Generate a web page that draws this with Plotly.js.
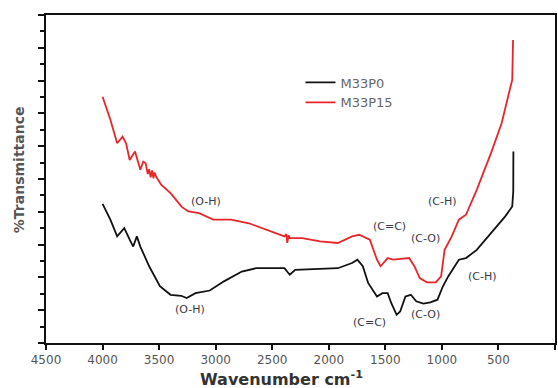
<!DOCTYPE html>
<html>
<head>
<meta charset="utf-8">
<script src="https://cdn.plot.ly/plotly-3.0.1.min.js"></script>
<style>html,body{margin:0;padding:0;background:#fff;}#chart{width:558px;height:388px;}</style>
</head>
<body>
<div id="chart"></div>
<script>
// M33P15 (red) spectrum
const wnP15 = [4000, 3930, 3871, 3823, 3792, 3760, 3713, 3666, 3640, 3619, 3600, 3588, 3575, 3562, 3550, 3540, 3525, 3480, 3399, 3300, 3241, 3147, 3021, 2864, 2706, 2549, 2392, 2375, 2367, 2355, 2345, 2234, 2077, 1920, 1794, 1731, 1637, 1574, 1542, 1479, 1432, 1385, 1290, 1243, 1196, 1133, 1054, 1007, 976, 913, 850, 787, 692, 566, 472, 393, 378, 371];
const tP15  = [75.1, 68.0, 60.9, 62.9, 60.9, 55.8, 58.4, 52.8, 55.3, 54.8, 51.5, 53.0, 50.5, 52.6, 50.2, 52.0, 50.6, 48.2, 45.7, 41.5, 40.1, 39.6, 37.6, 37.6, 36.5, 34.5, 32.5, 33.2, 30.5, 32.8, 32.0, 32.0, 31.0, 30.5, 32.5, 33.0, 31.5, 25.4, 23.4, 25.9, 25.4, 25.6, 25.9, 23.4, 19.8, 18.5, 18.5, 20.3, 28.4, 32.5, 37.6, 39.1, 46.7, 57.9, 67.0, 78.2, 80.2, 92.4];
// M33P0 (black) spectrum
const wnP0 = [4000, 3931, 3871, 3808, 3760, 3729, 3697, 3666, 3588, 3493, 3399, 3304, 3257, 3178, 3052, 2927, 2769, 2643, 2392, 2345, 2297, 2140, 1920, 1794, 1747, 1699, 1652, 1574, 1526, 1479, 1448, 1400, 1369, 1322, 1274, 1227, 1164, 1101, 1039, 991, 944, 850, 787, 692, 566, 440, 378, 369, 368];
const tP0  = [42.4, 37.6, 32.5, 35.0, 31.5, 29.4, 32.5, 29.4, 23.4, 17.3, 14.7, 14.4, 13.7, 15.2, 16.0, 18.8, 21.8, 22.8, 22.8, 20.8, 22.3, 22.5, 22.8, 24.4, 25.4, 23.4, 18.3, 14.2, 15.2, 15.2, 12.2, 8.6, 9.6, 14.2, 14.7, 12.7, 12.0, 12.4, 13.2, 17.3, 20.3, 25.4, 25.9, 28.4, 33.5, 38.6, 41.6, 46.2, 58.4];
// band labels
const bandText = ["(O-H)", "(O-H)", "(C=C)", "(C-O)", "(C-H)", "(C-H)", "(C=C)", "(C-O)"];
const bandX    = [3084, 3226, 1463, 1149, 991, 645, 1636, 1149];
const bandY    = [43.1, 10.2, 35.5, 32.0, 43.1, 20.3, 6.1, 8.6];
const xTicks = [4500, 4000, 3500, 3000, 2500, 2000, 1500, 1000, 500, 0];
const xTitle = 'Wavenumber cm<sup>-1</sup>';
const yTitle = '%Transmittance';

const FONT = 'DejaVu Sans, Verdana, sans-serif';

const traces = [
  {x: wnP0, y: tP0, type: 'scatter', mode: 'lines', name: 'M33P0',
   line: {color: '#111111', width: 1.8}},
  {x: wnP15, y: tP15, type: 'scatter', mode: 'lines', name: 'M33P15',
   line: {color: '#e8262a', width: 1.8}}
];

const annotations = bandText.map((t, i) => ({
  x: bandX[i], y: bandY[i], xref: 'x', yref: 'y', text: t, showarrow: false,
  font: {family: FONT, size: 11, color: '#3a3a48'}
}));
annotations.push({
  x: 0.462, y: -0.107, xref: 'paper', yref: 'paper', xanchor: 'center', yanchor: 'middle',
  text: xTitle, showarrow: false,
  font: {family: FONT, size: 16, color: '#333', weight: 'bold'}
});
annotations.push({
  x: -0.053, y: 0.527, xref: 'paper', yref: 'paper', xanchor: 'center', yanchor: 'middle',
  text: yTitle, showarrow: false, textangle: -90,
  font: {family: FONT, size: 14, color: '#555', weight: 'bold'}
});

const layout = {
  width: 558, height: 388,
  margin: {l: 46, r: 3, t: 15, b: 45},
  paper_bgcolor: '#ffffff', plot_bgcolor: '#ffffff',
  showlegend: true,
  legend: {x: 0.50, y: 0.84, xanchor: 'left', yanchor: 'top', bgcolor: 'rgba(0,0,0,0)',
           font: {family: FONT, size: 13, color: '#666'},
           tracegroupgap: 0},
  xaxis: {
    range: [4500, 0], tickvals: xTicks, ticktext: xTicks.map(String),
    showgrid: false, zeroline: false, showline: true, mirror: true,
    linecolor: '#111', linewidth: 2, ticks: 'outside', ticklen: 5, tickwidth: 2, tickcolor: '#111',
    tickfont: {family: FONT, size: 12, color: '#555'}
  },
  yaxis: {
    range: [0, 100], dtick: 10, showticklabels: false,
    showgrid: false, zeroline: false, showline: true, mirror: true,
    linecolor: '#111', linewidth: 2, ticks: 'outside', ticklen: 6, tickwidth: 2, tickcolor: '#111',
    minor: {dtick: 5, ticks: 'outside', ticklen: 4, tickwidth: 2, tickcolor: '#111', showgrid: false}
  },
  annotations: annotations
};

Plotly.newPlot('chart', traces, layout, {displayModeBar: false, staticPlot: true});
</script>
</body>
</html>
